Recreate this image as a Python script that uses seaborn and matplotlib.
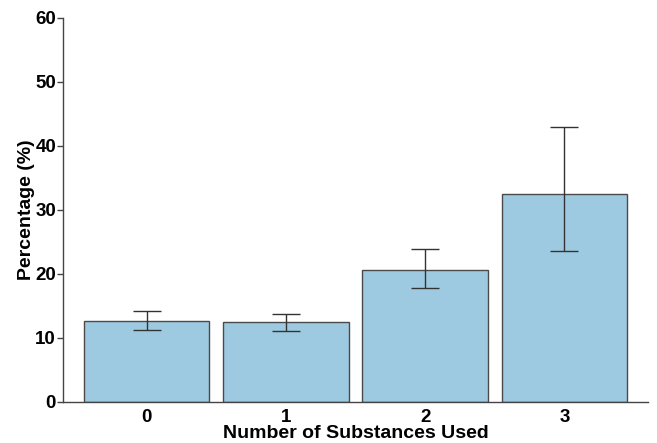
import numpy as np
import pandas as pd
import matplotlib
matplotlib.use('Agg')
import matplotlib.pyplot as plt
import seaborn as sns

# data
substances = ['0', '1', '2', '3']
percentage = [12.55, 12.4, 20.6, 32.45]
ci_low = [11.2, 11.1, 17.7, 23.5]
ci_high = [14.15, 13.75, 23.9, 43.0]

sns.set_style('white')
plt.rcParams['font.family'] = ['Liberation Sans', 'DejaVu Sans']
plt.rcParams['text.color'] = 'black'
plt.rcParams['axes.labelcolor'] = 'black'
plt.rcParams['xtick.color'] = 'black'
plt.rcParams['ytick.color'] = 'black'

df = pd.DataFrame({'substances': substances, 'percentage': percentage})

fig = plt.figure(figsize=(6.57, 4.43), dpi=100)
ax = fig.add_axes([0.0959, 0.0932, 0.8904, 0.8668])

sns.barplot(data=df, x='substances', y='percentage', color='#9ecae1',
            saturation=1, width=0.9, edgecolor='#4a4a4a', linewidth=1.0,
            errorbar=None, ax=ax)

# error bars (precomputed intervals)
pct = np.array(percentage)
yerr = [pct - np.array(ci_low), np.array(ci_high) - pct]
ax.errorbar(np.arange(len(substances)), pct, yerr=yerr, fmt='none',
            ecolor='#333333', elinewidth=1.0, capsize=10, capthick=1.0)

ax.set_xlim(-0.6, 3.6)
ax.set_ylim(0, 60)
ax.set_yticks(range(0, 61, 10))

ax.set_xlabel('Number of Substances Used', fontsize=14, fontweight='bold', labelpad=-0.5)
ax.set_ylabel('Percentage (%)', fontsize=14, fontweight='bold', labelpad=0)
for lab in ax.get_xticklabels() + ax.get_yticklabels():
    lab.set_fontweight('bold')
ax.tick_params(axis='both', labelsize=13.5, labelcolor='black')
ax.tick_params(axis='y', left=True, length=4, width=1, color='#444444', pad=1)
ax.tick_params(axis='x', bottom=False, pad=1.5)

sns.despine(ax=ax)
for side in ['left', 'bottom']:
    ax.spines[side].set_color('#444444')
    ax.spines[side].set_linewidth(1.0)

fig.savefig('out.png', dpi=100)
